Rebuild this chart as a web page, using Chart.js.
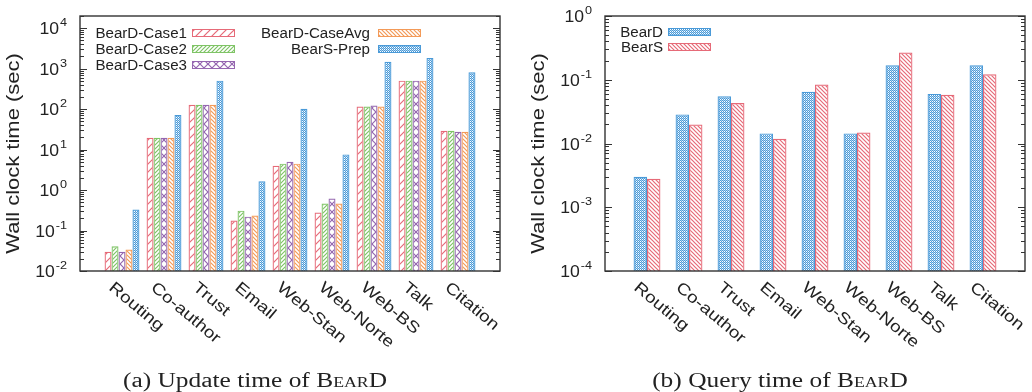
<!DOCTYPE html>
<html>
<head>
<meta charset="utf-8">
<script src="https://cdn.jsdelivr.net/npm/chart.js@4"></script>
<style>
  body { margin: 0; background: #fff; width: 1032px; height: 392px; position: relative; overflow: hidden; }
  .box { position: absolute; top: 0; width: 516px; height: 392px; }
  .cap { position: absolute; top: 369px; line-height: 22px; font: 20px "Liberation Serif", serif; color: #222;
         white-space: nowrap; transform: translateX(-50%) scaleX(1.27); }
  .sc { font-variant: small-caps; }
</style>
</head>
<body>
<div class="box" style="left:0"><canvas id="upd"></canvas></div>
<div class="box" style="left:516px"><canvas id="qry"></canvas></div>
<div class="cap" style="left:255px">(a) Update time of <span class="sc">BearD</span></div>
<div class="cap" style="left:780px">(b) Query time of <span class="sc">BearD</span></div>
<script>
// datasets
const categories = ['Routing', 'Co-author', 'Trust', 'Email', 'Web-Stan', 'Web-Norte', 'Web-BS', 'Talk', 'Citation'];

// update time (sec)
const bearDCase1 = [0.030, 19.6, 128, 0.177, 4.0, 0.279, 116, 505, 29.2];
const bearDCase2 = [0.041, 19.6, 128, 0.31, 4.5, 0.465, 116, 505, 29.2];
const bearDCase3 = [0.030, 19.6, 128, 0.22, 5.0, 0.62, 123, 505, 27.6];
const bearDCaseAvg = [0.034, 19.6, 128, 0.235, 4.5, 0.465, 116, 505, 27.6];
const bearSPrep = [0.33, 72, 505, 1.65, 102, 7.6, 1480, 1830, 810];

// query time (sec)
const queryBearD = [0.0030, 0.0286, 0.055, 0.0144, 0.065, 0.0144, 0.169, 0.060, 0.169];
const queryBearS = [0.0028, 0.0199, 0.043, 0.0119, 0.084, 0.0149, 0.268, 0.058, 0.122];

// tick exponents
const updateExps = [-2, -1, 0, 1, 2, 3, 4];
const queryExps = [-4, -3, -2, -1, 0];

const RED = '#e66a78', GREEN = '#7fc466', PURPLE = '#9567b0', ORANGE = '#f39a58', BLUE = '#4a9ad8';
const INK = '#222';
const SANS = '"Liberation Sans", Arial, sans-serif';

function hatch(color, kind) {
  const s = (kind === 'sparse' || kind === 'cross') ? 8 : (kind === 'check' ? 2 : 4);
  const c = document.createElement('canvas');
  c.width = c.height = s;
  const g = c.getContext('2d');
  g.strokeStyle = color;
  g.fillStyle = color;
  g.lineWidth = 1.2;
  if (kind === 'check') {
    g.fillRect(0, 0, 1, 1);
    g.fillRect(1, 1, 1, 1);
    g.globalAlpha = 0.45;
    g.fillRect(1, 0, 1, 1);
  } else {
    if (kind !== 'back') { // "/"
      g.beginPath();
      g.moveTo(-1, s + 1); g.lineTo(s + 1, -1);
      g.moveTo(-1, 1); g.lineTo(1, -1);
      g.moveTo(s - 1, s + 1); g.lineTo(s + 1, s - 1);
      g.stroke();
    }
    if (kind === 'back' || kind === 'cross') { // "\"
      g.beginPath();
      g.moveTo(-1, -1); g.lineTo(s + 1, s + 1);
      g.moveTo(s - 1, -1); g.lineTo(s + 1, 1);
      g.moveTo(-1, s - 1); g.lineTo(1, s + 1);
      g.stroke();
    }
  }
  return g.createPattern(c, 'repeat');
}

function txt(ctx, s, x, y, size, align, sx, rot) {
  ctx.save();
  ctx.translate(x, y);
  if (rot) ctx.rotate(rot);
  ctx.scale(sx, 1);
  ctx.font = size + 'px ' + SANS;
  ctx.textAlign = align;
  ctx.textBaseline = 'alphabetic';
  ctx.fillStyle = INK;
  ctx.fillText(s, 0, 0);
  ctx.restore();
}

function decor(o) {
  return {
    id: 'decor',
    afterDraw(chart) {
      const { ctx, chartArea: a, scales: { x, y } } = chart;
      ctx.save();
      // frame
      ctx.strokeStyle = '#333';
      ctx.lineWidth = 1.4;
      ctx.strokeRect(a.left, a.top, a.right - a.left, a.bottom - a.top);
      // log ticks
      ctx.lineWidth = 1;
      for (let e = o.exps[0]; e <= o.exps[o.exps.length - 1] + 1; e++) {
        for (let m = 1; m <= 9; m++) {
          const v = m * Math.pow(10, e);
          if (v > y.max * 1.0001) break;
          const py = Math.round(y.getPixelForValue(v)) + 0.5;
          const len = m === 1 ? 7 : 4;
          ctx.beginPath();
          ctx.moveTo(a.left, py); ctx.lineTo(a.left + len, py);
          ctx.moveTo(a.right, py); ctx.lineTo(a.right - len, py);
          ctx.stroke();
        }
      }
      // tick labels 10^e
      o.exps.forEach(e => {
        const py = y.getPixelForValue(Math.pow(10, e));
        ctx.font = '11px ' + SANS;
        const we = ctx.measureText(String(e)).width * 1.15;
        const xr = a.left - 13;
        txt(ctx, '10', xr - we - 1, py + 6, 16, 'right', 1.1);
        txt(ctx, String(e), xr, py - 2, 11, 'right', 1.15);
      });
      // y title
      txt(ctx, 'Wall clock time (sec)', a.left - o.titleGap, (a.top + a.bottom) / 2 + 10, 18, 'center', 1.22, -Math.PI / 2);
      // category labels
      categories.forEach((c, i) => {
        const px = x.getPixelForValue(i);
        txt(ctx, c, px - 14, a.bottom + 18, 16, 'left', 1.2, 40 * Math.PI / 180);
      });
      // legend
      o.legend.forEach(it => {
        txt(ctx, it.label, it.tx, it.y + 5, 14, 'right', 1.08);
        ctx.fillStyle = it.fill;
        ctx.fillRect(it.bx, it.y - 3.5, 43, 7);
        ctx.strokeStyle = it.color;
        ctx.lineWidth = 1;
        ctx.strokeRect(it.bx + 0.5, it.y - 3.5, 42, 7);
      });
      ctx.restore();
    }
  };
}

function pts(arr) { return arr.map((v, i) => ({ x: i, y: v })); }

function ds(label, arr, color, fill) {
  return { label, data: pts(arr), backgroundColor: fill, borderColor: color, borderWidth: 1.2 };
}

function makeChart(id, datasets, yMin, yMax, pad, catPct, opts) {
  return new Chart(document.getElementById(id), {
    type: 'bar',
    data: { datasets },
    options: {
      responsive: true,
      maintainAspectRatio: false,
      animation: false,
      layout: { padding: pad },
      datasets: { bar: { categoryPercentage: catPct, barPercentage: 1.0 } },
      plugins: { legend: { display: false }, tooltip: { enabled: false } },
      scales: {
        x: { type: 'linear', min: -1, max: 9, offset: false, display: false },
        y: { type: 'logarithmic', min: yMin, max: yMax, display: false }
      }
    },
    plugins: [decor(opts)]
  });
}

const pRed = hatch(RED, 'sparse'), pGreen = hatch(GREEN, 'fwd'), pPurple = hatch(PURPLE, 'cross'),
      pOrange = hatch(ORANGE, 'back'), pBlue = hatch(BLUE, 'check'), pRedBack = hatch(RED, 'back');

makeChart('upd', [
  ds('BearD-Case1', bearDCase1, RED, pRed),
  ds('BearD-Case2', bearDCase2, GREEN, pGreen),
  ds('BearD-Case3', bearDCase3, PURPLE, pPurple),
  ds('BearD-CaseAvg', bearDCaseAvg, ORANGE, pOrange),
  ds('BearS-Prep', bearSPrep, BLUE, pBlue)
], 0.01, 20000, { left: 80, top: 16, right: 16, bottom: 121 }, 0.83, {
  exps: updateExps,
  titleGap: 61,
  legend: [
    { label: 'BearD-Case1', color: RED, fill: pRed, tx: 187, bx: 192, y: 33 },
    { label: 'BearD-Case2', color: GREEN, fill: pGreen, tx: 187, bx: 192, y: 49 },
    { label: 'BearD-Case3', color: PURPLE, fill: pPurple, tx: 187, bx: 192, y: 65 },
    { label: 'BearD-CaseAvg', color: ORANGE, fill: pOrange, tx: 370, bx: 378, y: 33 },
    { label: 'BearS-Prep', color: BLUE, fill: pBlue, tx: 370, bx: 378, y: 49 }
  ]
});

makeChart('qry', [
  ds('BearD', queryBearD, BLUE, pBlue),
  ds('BearS', queryBearS, RED, pRedBack)
], 0.0001, 1, { left: 89, top: 16, right: 7, bottom: 121 }, 0.64, {
  exps: queryExps,
  titleGap: 61,
  legend: [
    { label: 'BearD', color: BLUE, fill: pBlue, tx: 147, bx: 152, y: 32 },
    { label: 'BearS', color: RED, fill: pRedBack, tx: 147, bx: 152, y: 47 }
  ]
});
</script>
</body>
</html>
